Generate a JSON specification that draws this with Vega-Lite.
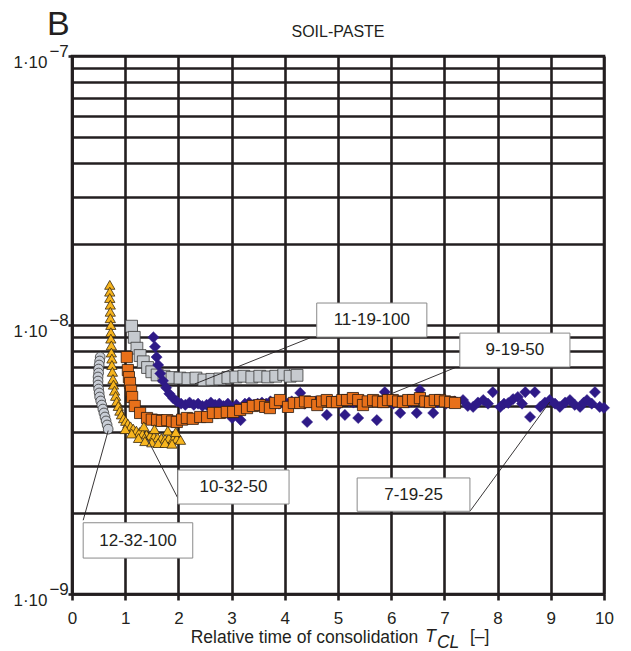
{
  "$schema": "https://vega.github.io/schema/vega-lite/v6.json",
  "width": 532,
  "height": 538,
  "autosize": {"type": "none"},
  "padding": {"left": 72, "top": 56, "right": 27, "bottom": 57},
  "background": "white",
  "config": {
    "view": {"stroke": "#231f20", "strokeWidth": 2.6},
    "font": "Liberation Sans"
  },
  "datasets": {
    "gray": [
      {"x": 1.12, "y": 9.9e-9}, {"x": 1.17, "y": 9.0e-9}, {"x": 1.22, "y": 8.2e-9}, {"x": 1.28, "y": 7.7e-9},
      {"x": 1.34, "y": 7.3e-9}, {"x": 1.42, "y": 6.95e-9}, {"x": 1.5, "y": 6.7e-9}, {"x": 1.6, "y": 6.52e-9},
      {"x": 1.73, "y": 6.45e-9}, {"x": 1.88, "y": 6.38e-9}, {"x": 2.03, "y": 6.35e-9}, {"x": 2.18, "y": 6.32e-9},
      {"x": 2.33, "y": 6.35e-9}, {"x": 2.48, "y": 6.25e-9}, {"x": 2.63, "y": 6.28e-9}, {"x": 2.78, "y": 6.3e-9},
      {"x": 2.93, "y": 6.38e-9}, {"x": 3.08, "y": 6.41e-9}, {"x": 3.23, "y": 6.45e-9}, {"x": 3.38, "y": 6.4e-9},
      {"x": 3.53, "y": 6.45e-9}, {"x": 3.68, "y": 6.41e-9}, {"x": 3.83, "y": 6.45e-9}, {"x": 3.98, "y": 6.55e-9},
      {"x": 4.1, "y": 6.45e-9}, {"x": 4.23, "y": 6.5e-9}
    ],
    "diamond": [
      {"x": 1.53, "y": 9.0e-9}, {"x": 1.56, "y": 8.3e-9}, {"x": 1.59, "y": 7.6e-9}, {"x": 1.62, "y": 7.1e-9},
      {"x": 1.66, "y": 6.6e-9}, {"x": 1.71, "y": 6.2e-9}, {"x": 1.77, "y": 5.85e-9}, {"x": 1.83, "y": 5.55e-9},
      {"x": 1.9, "y": 5.35e-9}, {"x": 1.97, "y": 5.2e-9}, {"x": 2.05, "y": 5.1e-9}, {"x": 2.13, "y": 5.05e-9},
      {"x": 2.21, "y": 5.15e-9}, {"x": 2.29, "y": 5.05e-9}, {"x": 2.37, "y": 5.1e-9}, {"x": 2.45, "y": 5.0e-9},
      {"x": 2.53, "y": 5.05e-9}, {"x": 2.61, "y": 5.15e-9}, {"x": 2.69, "y": 5.05e-9}, {"x": 2.77, "y": 5.1e-9},
      {"x": 2.85, "y": 5.0e-9}, {"x": 2.93, "y": 5.1e-9}, {"x": 3.01, "y": 4.51e-9}, {"x": 3.09, "y": 5.05e-9},
      {"x": 3.17, "y": 4.43e-9}, {"x": 3.25, "y": 5.1e-9}, {"x": 3.33, "y": 5.15e-9}, {"x": 3.41, "y": 5.05e-9},
      {"x": 3.49, "y": 5.1e-9}, {"x": 3.57, "y": 5.15e-9}, {"x": 3.65, "y": 5.1e-9}, {"x": 3.73, "y": 5.2e-9},
      {"x": 3.81, "y": 5.05e-9}, {"x": 3.89, "y": 5.1e-9}, {"x": 3.97, "y": 5.15e-9}, {"x": 4.05, "y": 5.1e-9},
      {"x": 4.13, "y": 5.2e-9}, {"x": 4.21, "y": 5.15e-9}, {"x": 4.29, "y": 5.59e-9}, {"x": 4.37, "y": 5.1e-9},
      {"x": 4.42, "y": 4.36e-9}, {"x": 4.5, "y": 5.15e-9}, {"x": 4.58, "y": 5.2e-9}, {"x": 4.66, "y": 5.1e-9},
      {"x": 4.79, "y": 4.63e-9}, {"x": 4.87, "y": 5.15e-9}, {"x": 4.95, "y": 5.2e-9}, {"x": 5.03, "y": 5.1e-9},
      {"x": 5.13, "y": 4.63e-9}, {"x": 5.21, "y": 5.2e-9}, {"x": 5.29, "y": 5.15e-9}, {"x": 5.38, "y": 4.51e-9},
      {"x": 5.46, "y": 5.2e-9}, {"x": 5.54, "y": 5.1e-9}, {"x": 5.62, "y": 5.2e-9}, {"x": 5.73, "y": 4.43e-9},
      {"x": 5.81, "y": 5.15e-9}, {"x": 5.88, "y": 5.63e-9}, {"x": 5.96, "y": 5.2e-9}, {"x": 6.04, "y": 5.1e-9},
      {"x": 6.17, "y": 4.71e-9}, {"x": 6.25, "y": 5.2e-9}, {"x": 6.33, "y": 5.15e-9}, {"x": 6.41, "y": 5.2e-9},
      {"x": 6.48, "y": 4.71e-9}, {"x": 6.54, "y": 5.73e-9}, {"x": 6.62, "y": 5.15e-9}, {"x": 6.7, "y": 5.2e-9},
      {"x": 6.79, "y": 4.71e-9}, {"x": 6.87, "y": 5.15e-9}, {"x": 6.95, "y": 5.2e-9}, {"x": 7.03, "y": 5.1e-9},
      {"x": 7.11, "y": 5.15e-9}, {"x": 7.19, "y": 5.2e-9}, {"x": 7.24, "y": 5.15e-9}, {"x": 7.35, "y": 5.26e-9},
      {"x": 7.44, "y": 5.0e-9}, {"x": 7.54, "y": 4.96e-9}, {"x": 7.63, "y": 5.15e-9}, {"x": 7.73, "y": 5.26e-9},
      {"x": 7.82, "y": 5.1e-9}, {"x": 7.91, "y": 5.63e-9}, {"x": 8.05, "y": 4.96e-9}, {"x": 8.12, "y": 5.1e-9},
      {"x": 8.2, "y": 5.13e-9}, {"x": 8.29, "y": 5.3e-9}, {"x": 8.38, "y": 5.4e-9}, {"x": 8.46, "y": 5.1e-9},
      {"x": 8.52, "y": 5.63e-9}, {"x": 8.61, "y": 4.55e-9}, {"x": 8.7, "y": 5.63e-9}, {"x": 8.8, "y": 4.96e-9},
      {"x": 8.89, "y": 5.15e-9}, {"x": 8.98, "y": 5.26e-9}, {"x": 9.08, "y": 5.1e-9}, {"x": 9.17, "y": 4.96e-9},
      {"x": 9.27, "y": 5.15e-9}, {"x": 9.36, "y": 5.26e-9}, {"x": 9.45, "y": 5.05e-9}, {"x": 9.55, "y": 4.96e-9},
      {"x": 9.62, "y": 5.15e-9}, {"x": 9.68, "y": 5.26e-9}, {"x": 9.77, "y": 5.1e-9}, {"x": 9.83, "y": 5.63e-9},
      {"x": 9.92, "y": 4.96e-9}, {"x": 10.0, "y": 4.92e-9}
    ],
    "orange": [
      {"x": 1.03, "y": 7.6e-9}, {"x": 1.05, "y": 6.8e-9}, {"x": 1.07, "y": 6.4e-9}, {"x": 1.09, "y": 6.09e-9},
      {"x": 1.11, "y": 5.7e-9}, {"x": 1.13, "y": 5.4e-9}, {"x": 1.18, "y": 5.0e-9}, {"x": 1.28, "y": 4.71e-9},
      {"x": 1.41, "y": 4.51e-9}, {"x": 1.5, "y": 4.45e-9}, {"x": 1.6, "y": 4.43e-9}, {"x": 1.69, "y": 4.4e-9},
      {"x": 1.79, "y": 4.43e-9}, {"x": 1.88, "y": 4.38e-9}, {"x": 1.97, "y": 4.36e-9}, {"x": 2.07, "y": 4.45e-9},
      {"x": 2.16, "y": 4.51e-9}, {"x": 2.27, "y": 4.48e-9}, {"x": 2.41, "y": 4.55e-9}, {"x": 2.54, "y": 4.55e-9},
      {"x": 2.65, "y": 4.71e-9}, {"x": 2.78, "y": 4.71e-9}, {"x": 2.91, "y": 4.75e-9}, {"x": 3.03, "y": 4.75e-9},
      {"x": 3.16, "y": 4.83e-9}, {"x": 3.29, "y": 4.91e-9}, {"x": 3.4, "y": 5.0e-9}, {"x": 3.53, "y": 5.04e-9},
      {"x": 3.63, "y": 4.96e-9}, {"x": 3.72, "y": 4.91e-9}, {"x": 3.82, "y": 5.13e-9}, {"x": 3.91, "y": 5.26e-9},
      {"x": 4.06, "y": 4.96e-9}, {"x": 4.17, "y": 5.13e-9}, {"x": 4.29, "y": 5.13e-9}, {"x": 4.38, "y": 5.2e-9},
      {"x": 4.47, "y": 5.17e-9}, {"x": 4.61, "y": 5.04e-9}, {"x": 4.7, "y": 5.2e-9}, {"x": 4.79, "y": 5.26e-9},
      {"x": 4.89, "y": 5.17e-9}, {"x": 4.98, "y": 5.17e-9}, {"x": 5.08, "y": 5.26e-9}, {"x": 5.17, "y": 5.26e-9},
      {"x": 5.28, "y": 5.35e-9}, {"x": 5.38, "y": 5.26e-9}, {"x": 5.47, "y": 5.04e-9}, {"x": 5.56, "y": 5.2e-9},
      {"x": 5.66, "y": 5.26e-9}, {"x": 5.75, "y": 5.2e-9}, {"x": 5.85, "y": 5.17e-9}, {"x": 5.94, "y": 5.26e-9},
      {"x": 6.03, "y": 5.26e-9}, {"x": 6.13, "y": 5.2e-9}, {"x": 6.22, "y": 5.17e-9}, {"x": 6.32, "y": 5.26e-9},
      {"x": 6.41, "y": 5.26e-9}, {"x": 6.54, "y": 5.35e-9}, {"x": 6.64, "y": 5.2e-9}, {"x": 6.73, "y": 5.17e-9},
      {"x": 6.82, "y": 5.26e-9}, {"x": 6.92, "y": 5.26e-9}, {"x": 7.01, "y": 5.2e-9}, {"x": 7.11, "y": 5.17e-9},
      {"x": 7.2, "y": 5.13e-9}
    ],
    "triangle": [
      {"x": 0.71, "y": 1.41e-8}, {"x": 0.71, "y": 1.33e-8}, {"x": 0.71, "y": 1.26e-8}, {"x": 0.72, "y": 1.19e-8},
      {"x": 0.72, "y": 1.12e-8}, {"x": 0.72, "y": 1.06e-8}, {"x": 0.73, "y": 1.0e-8}, {"x": 0.73, "y": 9.4e-9},
      {"x": 0.73, "y": 8.9e-9}, {"x": 0.74, "y": 8.4e-9}, {"x": 0.74, "y": 7.9e-9}, {"x": 0.75, "y": 7.5e-9},
      {"x": 0.75, "y": 7.1e-9}, {"x": 0.76, "y": 6.7e-9}, {"x": 0.77, "y": 6.3e-9}, {"x": 0.78, "y": 6.0e-9},
      {"x": 0.8, "y": 5.7e-9}, {"x": 0.82, "y": 5.45e-9}, {"x": 0.84, "y": 5.2e-9}, {"x": 0.87, "y": 5.0e-9},
      {"x": 0.9, "y": 4.8e-9}, {"x": 0.93, "y": 4.65e-9}, {"x": 0.97, "y": 4.5e-9}, {"x": 1.01, "y": 4.4e-9},
      {"x": 1.05, "y": 4.3e-9}, {"x": 1.1, "y": 4.2e-9}, {"x": 1.15, "y": 4.12e-9}, {"x": 1.21, "y": 4.05e-9},
      {"x": 1.27, "y": 4.0e-9}, {"x": 1.33, "y": 3.95e-9}, {"x": 1.4, "y": 3.92e-9}, {"x": 1.47, "y": 3.88e-9},
      {"x": 1.54, "y": 3.85e-9}, {"x": 1.61, "y": 3.82e-9}, {"x": 1.68, "y": 3.8e-9}, {"x": 1.75, "y": 3.78e-9},
      {"x": 1.82, "y": 3.8e-9}, {"x": 1.9, "y": 3.76e-9}, {"x": 1.97, "y": 3.78e-9}, {"x": 2.04, "y": 3.74e-9},
      {"x": 1.0, "y": 4.1e-9}, {"x": 1.12, "y": 3.95e-9}, {"x": 1.25, "y": 3.8e-9}, {"x": 1.37, "y": 3.7e-9},
      {"x": 1.5, "y": 3.66e-9}, {"x": 1.62, "y": 3.64e-9}, {"x": 1.75, "y": 3.64e-9}, {"x": 1.88, "y": 3.62e-9},
      {"x": 1.35, "y": 4.2e-9}, {"x": 1.55, "y": 4.1e-9}, {"x": 1.8, "y": 4.05e-9}, {"x": 1.95, "y": 4.0e-9}
    ],
    "circle": [
      {"x": 0.53, "y": 7.6e-9}, {"x": 0.52, "y": 7.35e-9}, {"x": 0.51, "y": 7.1e-9}, {"x": 0.5, "y": 6.86e-9},
      {"x": 0.5, "y": 6.63e-9}, {"x": 0.49, "y": 6.41e-9}, {"x": 0.49, "y": 6.19e-9}, {"x": 0.49, "y": 5.98e-9},
      {"x": 0.5, "y": 5.78e-9}, {"x": 0.51, "y": 5.59e-9}, {"x": 0.52, "y": 5.4e-9}, {"x": 0.54, "y": 5.22e-9},
      {"x": 0.56, "y": 5.04e-9}, {"x": 0.58, "y": 4.87e-9}, {"x": 0.6, "y": 4.71e-9}, {"x": 0.62, "y": 4.55e-9},
      {"x": 0.64, "y": 4.4e-9}, {"x": 0.66, "y": 4.25e-9}, {"x": 0.68, "y": 4.1e-9}
    ],
    "leaders": [
      {"x": 4.47, "y": 8.95e-9, "x2": 2.31, "y2": 6.04e-9},
      {"x": 7.2, "y": 6.94e-9, "x2": 6.03, "y2": 5.58e-9},
      {"x": 7.48, "y": 2.03e-9, "x2": 8.98, "y2": 5.17e-9},
      {"x": 1.99, "y": 2.27e-9, "x2": 1.35, "y2": 4.0e-9},
      {"x": 0.21, "y": 1.88e-9, "x2": 0.68, "y2": 4.05e-9}
    ],
    "boxes": [
      {"x": 4.6, "x2": 6.67, "y": 9.02e-9, "y2": 1.207e-8, "cx": 5.635, "cy": 1.044e-8, "label": "11-19-100"},
      {"x": 7.29, "x2": 9.36, "y": 6.98e-9, "y2": 9.33e-9, "cx": 8.325, "cy": 8.07e-9, "label": "9-19-50"},
      {"x": 5.36, "x2": 7.48, "y": 2.03e-9, "y2": 2.7e-9, "cx": 6.42, "cy": 2.34e-9, "label": "7-19-25"},
      {"x": 1.99, "x2": 4.08, "y": 2.16e-9, "y2": 2.89e-9, "cx": 3.035, "cy": 2.5e-9, "label": "10-32-50"},
      {"x": 0.21, "x2": 2.27, "y": 1.36e-9, "y2": 1.84e-9, "cx": 1.24, "cy": 1.58e-9, "label": "12-32-100"}
    ],
    "exponents": [
      {"x": -0.06, "y": 1e-9, "t": "−9"},
      {"x": -0.06, "y": 1e-8, "t": "−8"},
      {"x": -0.06, "y": 1e-7, "t": "−7"}
    ]
  },
  "encoding": {
    "x": {
      "field": "x", "type": "quantitative",
      "scale": {"domain": [0, 10], "nice": false, "zero": false},
      "axis": {
        "values": [0, 1, 2, 3, 4, 5, 6, 7, 8, 9, 10],
        "grid": true, "gridColor": "#231f20", "gridWidth": 2.6, "gridOpacity": 1,
        "domainColor": "#231f20", "domainWidth": 2.6,
        "tickColor": "#231f20", "tickWidth": 2.6, "tickSize": 6,
        "labelFontSize": 17, "labelColor": "#231f20", "labelBaseline": "alphabetic", "labelPadding": 23,
        "labelFlush": false, "labelOverlap": false,
        "title": "Relative time of consolidation", "titleFontSize": 17.5, "titleFontWeight": "normal",
        "titleColor": "#231f20", "titleX": 232, "titleY": 48, "titleAlign": "center", "titleBaseline": "alphabetic"
      }
    },
    "y": {
      "field": "y", "type": "quantitative",
      "scale": {"type": "log", "domain": [1e-9, 1e-7], "nice": false},
      "axis": {
        "values": [1e-9, 2e-9, 3e-9, 4e-9, 5e-9, 6e-9, 7e-9, 8e-9, 9e-9, 1e-8, 2e-8, 3e-8, 4e-8, 5e-8, 6e-8, 7e-8, 8e-8, 9e-8, 1e-7],
        "grid": true, "gridColor": "#231f20", "gridWidth": 2.6, "gridOpacity": 1,
        "domainColor": "#231f20", "domainWidth": 2.6,
        "tickColor": "#231f20", "tickWidth": 2.6, "tickSize": 4,
        "tickOpacity": {"condition": {"test": "abs(log(datum.value)/LN10 - round(log(datum.value)/LN10)) < 0.001", "value": 1}, "value": 0},
        "labelExpr": "abs(log(datum.value)/LN10 - round(log(datum.value)/LN10)) < 0.001 ? '1·10' : ''",
        "labelFontSize": 17, "labelColor": "#231f20", "labelPadding": 21, "labelBaseline": "alphabetic", "labelOffset": 11,
        "labelFlush": false, "labelOverlap": false,
        "title": null
      }
    }
  },
  "layer": [
    {"data": {"name": "gray"}, "mark": {"type": "point", "shape": "square", "filled": true, "fill": "#c6cacf", "stroke": "#3a3a3a", "strokeWidth": 0.8, "opacity": 1, "size": 140}},
    {"data": {"name": "diamond"}, "mark": {"type": "point", "shape": "diamond", "filled": true, "fill": "#2e1a87", "stroke": "#2e1a87", "strokeWidth": 0.5, "opacity": 1, "size": 125}},
    {"data": {"name": "orange"}, "mark": {"type": "point", "shape": "square", "filled": true, "fill": "#e8701a", "stroke": "#2a1a10", "strokeWidth": 0.8, "opacity": 1, "size": 125}},
    {"data": {"name": "triangle"}, "mark": {"type": "point", "shape": "triangle-up", "filled": true, "fill": "#f7b51e", "stroke": "#3a2a10", "strokeWidth": 0.8, "opacity": 1, "size": 105}},
    {"data": {"name": "circle"}, "mark": {"type": "point", "shape": "circle", "filled": true, "fill": "#c9ced7", "stroke": "#333333", "strokeWidth": 0.8, "opacity": 1, "size": 95}},
    {"data": {"name": "leaders"}, "mark": {"type": "rule", "color": "#231f20", "strokeWidth": 0.9},
     "encoding": {"x2": {"field": "x2"}, "y2": {"field": "y2"}}},
    {"data": {"name": "boxes"}, "mark": {"type": "rect", "fill": "white", "stroke": "#8a8a8a", "strokeWidth": 1},
     "encoding": {"x2": {"field": "x2"}, "y2": {"field": "y2"}}},
    {"data": {"name": "boxes"}, "mark": {"type": "text", "fontSize": 17, "align": "center", "baseline": "middle", "color": "#231f20"},
     "encoding": {"x": {"field": "cx", "type": "quantitative"}, "y": {"field": "cy", "type": "quantitative"}, "text": {"field": "label"}}},
    {"data": {"name": "exponents"}, "mark": {"type": "text", "fontSize": 17, "align": "right", "baseline": "alphabetic", "dy": 1, "color": "#231f20"},
     "encoding": {"text": {"field": "t"}}},
    {"data": {"values": [{"x": -0.47, "y": 1.197e-7, "t": "B"}]}, "mark": {"type": "text", "fontSize": 34, "align": "left", "baseline": "alphabetic", "color": "#231f20"},
     "encoding": {"text": {"field": "t"}}},
    {"data": {"values": [{"x": 5, "y": 1.177e-7, "t": "SOIL-PASTE"}]}, "mark": {"type": "text", "fontSize": 16, "align": "center", "baseline": "alphabetic", "color": "#231f20"},
     "encoding": {"text": {"field": "t"}}},
    {"data": {"values": [{"x": 6.64, "y": 1e-9, "t": "T"}]}, "mark": {"type": "text", "fontSize": 17.5, "fontStyle": "italic", "align": "left", "baseline": "alphabetic", "dy": 48, "color": "#231f20"},
     "encoding": {"text": {"field": "t"}}},
    {"data": {"values": [{"x": 6.86, "y": 1e-9, "t": "CL"}]}, "mark": {"type": "text", "fontSize": 17.5, "fontStyle": "italic", "align": "left", "baseline": "alphabetic", "dy": 54, "color": "#231f20"},
     "encoding": {"text": {"field": "t"}}},
    {"data": {"values": [{"x": 7.48, "y": 1e-9, "t": "[–]"}]}, "mark": {"type": "text", "fontSize": 17.5, "align": "left", "baseline": "alphabetic", "dy": 48, "color": "#231f20"},
     "encoding": {"text": {"field": "t"}}}
  ]
}
